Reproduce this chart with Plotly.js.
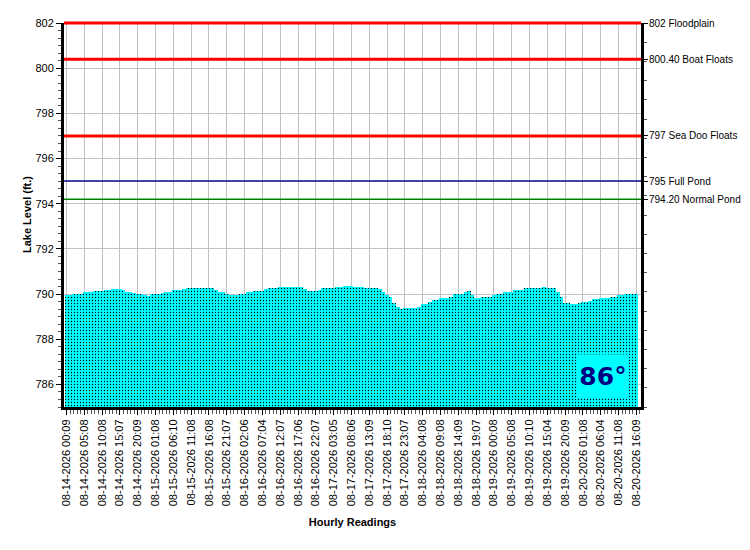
<!DOCTYPE html>
<html>
<head>
<meta charset="utf-8">
<script src="https://cdn.plot.ly/plotly-3.0.1.min.js"></script>
<style>
  html, body { margin: 0; padding: 0; background: #fff; }
  #lakePlot { width: 750px; height: 550px; }
</style>
</head>
<body>
<div id="lakePlot"></div>
<script>
// Hourly lake level readings (ft.), one per hour from 08-14-2026 00:09 to 08-20-2026 16:09.
const lakeLevels = [
  789.94, 789.97, 790.00, 790.01, 790.02, 790.09, 790.09, 790.09, 790.15, 790.15,
  790.15, 790.19, 790.19, 790.24, 790.24, 790.24, 790.18, 790.09, 790.09, 790.05,
  790.01, 790.00, 789.97, 789.92, 790.01, 790.01, 790.01, 790.05, 790.09, 790.09,
  790.16, 790.16, 790.16, 790.21, 790.27, 790.27, 790.27, 790.27, 790.27, 790.27,
  790.27, 790.27, 790.20, 790.09, 790.09, 790.01, 789.97, 789.97, 789.97, 790.00,
  790.00, 790.09, 790.09, 790.15, 790.15, 790.15, 790.21, 790.27, 790.27, 790.27,
  790.31, 790.31, 790.31, 790.31, 790.31, 790.31, 790.31, 790.24, 790.15, 790.15,
  790.15, 790.19, 790.27, 790.27, 790.27, 790.27, 790.31, 790.31, 790.36, 790.36,
  790.36, 790.31, 790.31, 790.31, 790.27, 790.27, 790.27, 790.27, 790.24, 790.09,
  789.95, 789.85, 789.60, 789.42, 789.35, 789.38, 789.38, 789.38, 789.38, 789.44,
  789.57, 789.57, 789.67, 789.75, 789.75, 789.82, 789.82, 789.82, 789.89, 790.00,
  790.00, 790.00, 790.09, 790.15, 789.95, 789.82, 789.82, 789.89, 789.89, 789.89,
  789.97, 790.00, 790.00, 790.09, 790.09, 790.09, 790.19, 790.19, 790.19, 790.27,
  790.27, 790.27, 790.27, 790.27, 790.31, 790.27, 790.27, 790.27, 790.10, 789.85,
  789.62, 789.60, 789.55, 789.55, 789.60, 789.67, 789.67, 789.70, 789.76, 789.76,
  789.82, 789.82, 789.82, 789.88, 789.88, 789.97, 789.97, 790.01, 790.01, 790.01,
  790.01
];

// Labels shown every 5th reading.
const tickLabels = [
  "08-14-2026 00:09", "08-14-2026 05:08", "08-14-2026 10:08", "08-14-2026 15:07", "08-14-2026 20:09",
  "08-15-2026 01:08", "08-15-2026 06:10", "08-15-2026 11:08", "08-15-2026 16:08", "08-15-2026 21:07",
  "08-16-2026 02:06", "08-16-2026 07:04", "08-16-2026 12:07", "08-16-2026 17:06", "08-16-2026 22:07",
  "08-17-2026 03:05", "08-17-2026 08:06", "08-17-2026 13:09", "08-17-2026 18:10", "08-17-2026 23:07",
  "08-18-2026 04:08", "08-18-2026 09:08", "08-18-2026 14:09", "08-18-2026 19:07",
  "08-19-2026 00:08", "08-19-2026 05:08", "08-19-2026 10:10", "08-19-2026 15:04", "08-19-2026 20:09",
  "08-20-2026 01:08", "08-20-2026 06:04", "08-20-2026 11:08", "08-20-2026 16:09"
];
const labelStep = 5;

// Reference levels drawn across the chart and named on the right axis.
const markLevels = [802, 800.40, 797, 795, 794.20];
const markNames = ["802 Floodplain", "800.40 Boat Floats", "797 Sea Doo Floats", "795 Full Pond", "794.20 Normal Pond"];
const markColors = ["#ff0000", "#ff0000", "#ff0000", "#000080", "#008000"];
const markWidths = [3, 3, 3, 1.5, 1.5];

const waterTemp = "86°";

const yRange = [785, 802];
const xRange = [-0.7, 161.3];

function buildPlot() {
  const xs = lakeLevels.map((_, i) => i);
  const tickVals = tickLabels.map((_, i) => i * labelStep);

  const levelTrace = {
    type: 'bar',
    x: xs,
    y: lakeLevels,
    width: 1,
    marker: {
      color: '#00ffff',
      line: {width: 0},
      pattern: {shape: '.', fgcolor: '#000000', bgcolor: '#00ffff', size: 3, solidity: 0.14}
    },
    hoverinfo: 'skip',
    showlegend: false
  };

  // Invisible points so the right-hand axis (level names) gets drawn.
  const rightAxisTrace = {
    type: 'scatter',
    mode: 'markers',
    x: markLevels.map(() => xs[0]),
    y: markLevels,
    yaxis: 'y2',
    marker: {opacity: 0, size: 1},
    hoverinfo: 'skip',
    showlegend: false
  };

  // Horizontal reference lines, placed in paper units so the top one is not clipped.
  const shapes = [];
  for (var i = 0; i < markLevels.length; i++) {
    const py = (markLevels[i] - yRange[0]) / (yRange[1] - yRange[0]);
    shapes.push({
      type: 'line', xref: 'paper', yref: 'paper',
      x0: 0, x1: 1, y0: py, y1: py,
      line: {color: markColors[i], width: markWidths[i]},
      layer: 'above'
    });
  }

  const fontFamily = 'Liberation Sans, Arial, sans-serif';
  const tickFont = {family: fontFamily, size: 11, color: '#000'};

  const layout = {
    width: 750,
    height: 550,
    margin: {l: 64, r: 109, t: 23, b: 143},
    paper_bgcolor: '#ffffff',
    plot_bgcolor: '#ffffff',
    bargap: 0,
    showlegend: false,
    font: tickFont,
    xaxis: {
      range: xRange,
      tickmode: 'array',
      tickvals: tickVals,
      ticktext: tickLabels,
      tickangle: -90,
      tickfont: tickFont,
      ticks: 'outside',
      ticklen: 5,
      tickcolor: '#000',
      showgrid: true,
      gridcolor: '#c0c0c0',
      gridwidth: 1,
      zeroline: false,
      showline: true,
      linecolor: '#000',
      linewidth: 3,
      minor: {dtick: 1, tick0: 0, ticks: 'outside', ticklen: 4, tickcolor: '#555', showgrid: false},
      title: {text: '<b>Hourly Readings</b>', font: {family: fontFamily, size: 11, color: '#000'}, standoff: 14},
      fixedrange: true
    },
    yaxis: {
      range: yRange,
      dtick: 2,
      tick0: 786,
      tickfont: tickFont,
      ticks: 'outside',
      ticklen: 5,
      tickcolor: '#000',
      showgrid: true,
      gridcolor: '#c0c0c0',
      gridwidth: 1,
      zeroline: false,
      showline: true,
      linecolor: '#000',
      linewidth: 3,
      minor: {dtick: 2 / 6, tick0: 786, ticks: 'outside', ticklen: 3, tickcolor: '#555', showgrid: false},
      fixedrange: true
    },
    yaxis2: {
      overlaying: 'y',
      side: 'right',
      range: yRange,
      tickmode: 'array',
      tickvals: markLevels,
      ticktext: markNames,
      tickfont: {family: fontFamily, size: 10, color: '#000'},
      ticks: 'outside',
      ticklen: 4,
      tickcolor: '#000',
      ticklabelstandoff: -1,
      showgrid: false,
      zeroline: false,
      showline: true,
      linecolor: '#000',
      linewidth: 3,
      minor: {dtick: 0.85, tick0: 802, ticks: 'outside', ticklen: 3, tickcolor: '#555', showgrid: false},
      fixedrange: true
    },
    shapes: shapes,
    annotations: [{
      // y-axis title, placed by hand to sit close to the tick labels
      xref: 'paper', yref: 'paper',
      x: -0.064, y: 0.5,
      xanchor: 'center', yanchor: 'middle',
      text: '<b>Lake Level (ft.)</b>',
      textangle: -90,
      showarrow: false,
      font: {family: fontFamily, size: 11, color: '#000'}
    }, {
      xref: 'paper', yref: 'paper',
      x: 0.934, y: 0.081,
      xanchor: 'center', yanchor: 'middle',
      text: '<b>' + waterTemp + '</b>',
      showarrow: false,
      font: {family: 'DejaVu Sans, Verdana, sans-serif', size: 25, color: '#000080'},
      bgcolor: '#00ffff',
      width: 48,
      height: 40
    }]
  };

  Plotly.newPlot('lakePlot', [levelTrace, rightAxisTrace], layout, {staticPlot: true, displayModeBar: false});
}

buildPlot();
</script>
</body>
</html>
